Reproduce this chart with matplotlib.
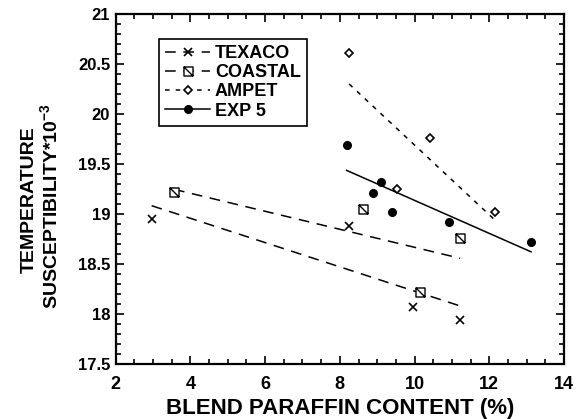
import numpy as np
import matplotlib
matplotlib.use('Agg')
import matplotlib.pyplot as plt
from matplotlib.path import Path
from matplotlib.lines import Line2D
from matplotlib.ticker import MultipleLocator

plt.rcParams['font.family'] = ['Liberation Sans', 'DejaVu Sans']
plt.rcParams['font.weight'] = 'bold'
plt.rcParams['mathtext.fontset'] = 'custom'
plt.rcParams['mathtext.rm'] = 'Liberation Sans:bold'
plt.rcParams['mathtext.bf'] = 'Liberation Sans:bold'
plt.rcParams['mathtext.default'] = 'bf'

# blend paraffin content (%) and temperature susceptibility for each crude
texaco_x = [2.96, 8.24, 9.96, 11.21]
texaco_y = [18.95, 18.88, 18.07, 17.94]
coastal_x = [3.56, 8.61, 10.14, 11.22]
coastal_y = [19.22, 19.05, 18.22, 18.76]
ampet_x = [8.25, 9.53, 10.41, 12.15]
ampet_y = [20.61, 19.25, 19.76, 19.02]
exp5_x = [8.18, 8.90, 9.09, 9.41, 10.92, 13.12]
exp5_y = [19.69, 19.21, 19.32, 19.02, 18.92, 18.72]
names = ['TEXACO', 'COASTAL', 'AMPET', 'EXP 5']

# square with a diagonal slash for the coastal points
box_slash = Path([(-1, -1), (1, -1), (1, 1), (-1, 1), (-1, -1), (-1, 1), (1, -1)],
                 [Path.MOVETO, Path.LINETO, Path.LINETO, Path.LINETO, Path.CLOSEPOLY,
                  Path.MOVETO, Path.LINETO])

styles = [
    dict(marker='x', ms=6, mfc='none', mew=1.2, dashes=(7, 5)),
    dict(marker=box_slash, ms=6.5, mfc='white', mew=1.0, dashes=(7, 5)),
    dict(marker='D', ms=4.2, mfc='white', mew=1.2, dashes=(3, 4)),
    dict(marker='o', ms=5.5, mfc='black', mew=1.0, dashes=None),
]
series = [(texaco_x, texaco_y), (coastal_x, coastal_y), (ampet_x, ampet_y), (exp5_x, exp5_y)]

fig = plt.figure(figsize=(5.76, 4.19), dpi=100)
ax = fig.add_axes([0.201, 0.1313, 0.778, 0.8353])

handles = []
for (xs, ys), st, name in zip(series, styles, names):
    xs = np.array(xs)
    ys = np.array(ys)
    # least squares trend line over the range of each blend
    slope, icpt = np.polyfit(xs, ys, 1)
    xl = np.array([xs.min(), xs.max()])
    ln, = ax.plot(xl, slope * xl + icpt, color='black', lw=1.1)
    if st['dashes']:
        ln.set_dashes(st['dashes'])
    ax.plot(xs, ys, ls='none', marker=st['marker'], ms=st['ms'], mfc=st['mfc'],
            mec='black', mew=st['mew'], zorder=3)
    h = Line2D([], [], color='black', lw=1.1, marker=st['marker'], ms=st['ms'],
               mfc=st['mfc'], mec='black', mew=st['mew'])
    if st['dashes']:
        h.set_dashes(st['dashes'])
    handles.append(h)

leg = ax.legend(handles, names, loc='upper left', bbox_to_anchor=(0.096, 0.929),
                borderaxespad=0, fancybox=False, edgecolor='black', framealpha=1,
                borderpad=0.35, labelspacing=0.12, handlelength=2.5, handletextpad=0.25,
                prop={'size': 13, 'weight': 'bold'})
leg.get_frame().set_linewidth(1.2)

ax.set_xlim(2, 14)
ax.set_ylim(17.5, 21)
ax.xaxis.set_major_locator(MultipleLocator(2))
ax.xaxis.set_minor_locator(MultipleLocator(0.5))
ax.yaxis.set_minor_locator(MultipleLocator(0.1))
ax.set_yticks([17.5, 18, 18.5, 19, 19.5, 20, 20.5, 21])
ax.set_yticklabels(['17.5', '18', '18.5', '19', '19.5', '20', '20.5', '21'])
ax.tick_params(which='both', direction='in', top=True, right=True, width=1.2)
ax.tick_params(which='major', length=6)
ax.tick_params(which='minor', length=3.5)
ax.tick_params(axis='x', labelsize=13, pad=9)
ax.tick_params(axis='y', labelsize=12, pad=4)
for sp in ax.spines.values():
    sp.set_linewidth(1.6)

ax.set_xlabel('BLEND PARAFFIN CONTENT (%)', fontsize=16, fontweight='bold', labelpad=3)
fig.text(34 / 576, 1 - 200 / 419, 'TEMPERATURE', rotation=90, rotation_mode='anchor',
         ha='center', va='baseline', fontsize=14, fontweight='bold')
fig.text(57 / 576, 1 - 206 / 419, r'SUSCEPTIBILITY*10$^{-3}$', rotation=90,
         rotation_mode='anchor', ha='center', va='baseline', fontsize=14, fontweight='bold')

fig.savefig('out.png', dpi=100)
